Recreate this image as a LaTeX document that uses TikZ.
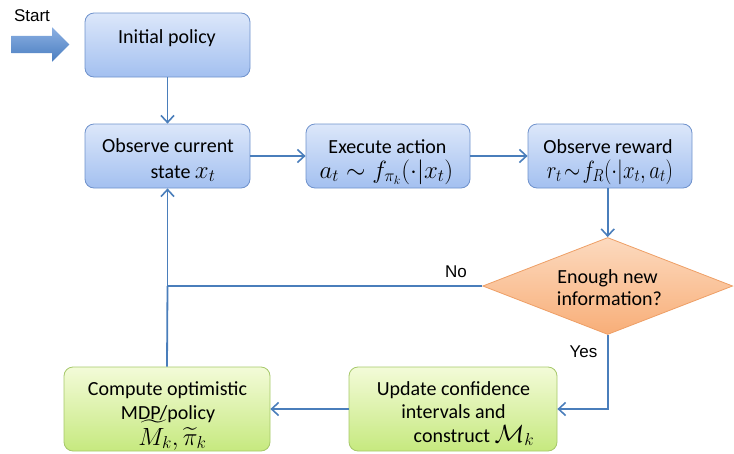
\documentclass[tikz,border=0pt]{standalone}
\usepackage{amsmath}
\usepackage{graphicx}
\usepackage{fontspec}
\setmainfont{Carlito}
\newfontfamily\arialf{Liberation Sans}
\usetikzlibrary{shapes.geometric,shapes.arrows,arrows.meta}
\definecolor{bluetop}{HTML}{DCE7FA}
\definecolor{bluebot}{HTML}{A3C0F0}
\definecolor{bluebd}{HTML}{6F92CC}
\definecolor{greentop}{HTML}{F3FBD8}
\definecolor{greenbot}{HTML}{C6E97F}
\definecolor{greenbd}{HTML}{A6C86A}
\definecolor{orangetop}{HTML}{FCDABF}
\definecolor{orangebot}{HTML}{F8AE78}
\definecolor{orangebd}{HTML}{EE9F66}
\definecolor{conn}{HTML}{4A7EBB}
\definecolor{starttop}{HTML}{8CB0E3}
\definecolor{startbot}{HTML}{4A7EC0}
\newcommand\mm[2]{{\fontsize{#1}{#1}\selectfont$#2$}}
\begin{document}
\begin{tikzpicture}[x=1pt,y=-1pt,
  bluebox/.style={draw=bluebd, line width=0.8pt, rounded corners=9pt,
    top color=bluetop, bottom color=bluebot, inner sep=0pt,
    minimum height=64pt},
  greenbox/.style={draw=greenbd, line width=0.8pt, rounded corners=9pt,
    top color=greentop, bottom color=greenbot, inner sep=0pt,
    minimum height=84pt},
  decision/.style={diamond, draw=orangebd, line width=0.8pt,
    top color=orangetop, bottom color=orangebot, inner sep=0pt,
    minimum width=250pt, minimum height=97pt},
  txt/.style={anchor=base, inner sep=0pt, font=\fontsize{20}{24}\selectfont},
  conn/.style={draw=conn, line width=1.8pt},
  arr/.style={conn, -{Straight Barb[length=7pt,width=13pt,line width=1.6pt]}},
  lbl/.style={font=\arialf\fontsize{17}{19}\selectfont, inner sep=0pt}
]
\useasboundingbox (0,0) rectangle (734,453);

% start arrow
\node[single arrow, draw=none, top color=starttop, bottom color=startbot,
  minimum height=58pt, minimum width=34pt, inner sep=8.5pt,
  single arrow head extend=8.5pt] (startarr) at (36,44.5) {};
\node[lbl] (start) at (32,16) {Start};

% boxes
\node[bluebox, minimum width=165pt] (init) at (167.5,45) {};
\node[bluebox, minimum width=165pt] (obs) at (167.5,156) {};
\node[bluebox, minimum width=164pt] (exec) at (388,156) {};
\node[bluebox, minimum width=164pt] (rew) at (610,156) {};
\node[decision] (dec) at (607.7,286) {};
\node[greenbox, minimum width=206pt] (comp) at (167,409) {};
\node[greenbox, minimum width=208pt] (upd) at (453,409) {};

% texts
\node[txt] (init-t) at (167,43) {Initial policy};
\node[txt] (obs-t1) at (168,152) {Observe current};
\node[txt] (obs-t2) at (183,178) {state \mm{26}{x_t}};
\node[txt] (exec-t1) at (387.5,153) {Execute action};
\node[txt] (exec-t2) at (386.5,178) {\mm{26}{a_t\sim f_{\pi_k}(\cdot|x_t)}};
\node[txt] (rew-t1) at (608,153) {Observe reward};
\node[txt] (rew-t2) at (610,178) {\scalebox{0.84}[1]{\mm{26}{r_t\!\sim\! f_R(\cdot|x_t,a_t)}}};
\node[txt] (dec-t1) at (607.5,283) {Enough new};
\node[txt] (dec-t2) at (609.5,305) {information?};
\node[txt] (comp-t1) at (167.5,395) {Compute optimistic};
\node[txt] (comp-t2) at (168,419) {MDP/policy};
\node[txt] (comp-t3) at (172.5,445) {\mm{24}{\widetilde{M}_k,\widetilde{\pi}_k}};
\node[txt] (upd-t1) at (453.5,395) {Update confidence};
\node[txt] (upd-t2) at (453.5,418) {intervals and};
\node[txt] (upd-t3) at (474,442) {construct \mm{26}{\mathcal{M}_k}};

% connectors
\coordinate (junc) at (obs.south |- dec.west);
\coordinate (yesc) at (dec.south |- upd.east);

\draw[arr] (init) -- (obs);
\draw[arr] (obs) -- (exec);
\draw[arr] (exec) -- (rew);
\draw[arr] (rew.south -| dec.north) -- (dec.north);
\draw[conn] (dec.west) -- (junc);
\draw[arr] (junc) -- (obs.south);
\draw[conn] (comp.north) -- (junc);
\draw[arr] (dec.south) -- (yesc) -- (upd.east);
\draw[arr] (upd) -- (comp);

\node[lbl] (no) at (456,271.5) {No};
\node[lbl] (yes) at (583.5,351.5) {Yes};
\end{tikzpicture}
\end{document}
